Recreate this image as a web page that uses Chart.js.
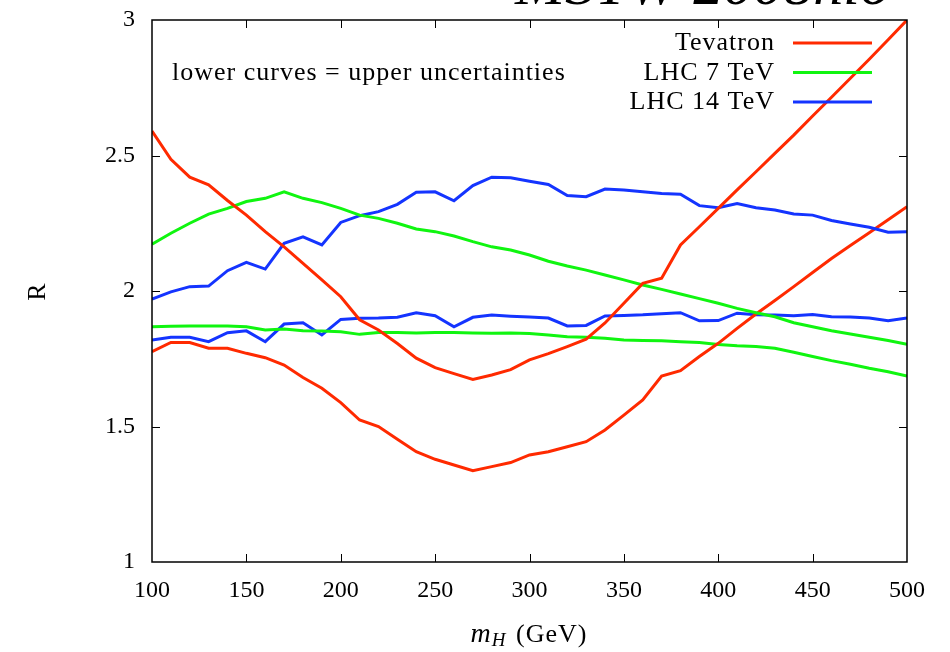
<!DOCTYPE html>
<html>
<head>
<meta charset="utf-8">
<script src="https://cdn.jsdelivr.net/npm/chart.js@4/dist/chart.umd.min.js"></script>
<style>
  body { margin: 0; background: #fff; }
  #wrap { width: 950px; height: 652px; position: relative; }
</style>
</head>
<body>
<div id="wrap"><canvas id="chart"></canvas></div>
<script>
const masses = [100, 110, 120, 130, 140, 150, 160, 170, 180, 190, 200, 210, 220, 230, 240, 250, 260, 270, 280, 290, 300,
    310, 320, 330, 340, 350, 360, 370, 380, 390, 400, 410, 420, 430, 440, 450, 460, 470, 480, 490, 500];

const tevUpper = [2.59, 2.486, 2.42, 2.392, 2.334, 2.28, 2.219, 2.163, 2.102, 2.041, 1.979, 1.894, 1.856, 1.806, 1.752,
    1.717, 1.695, 1.674, 1.69, 1.71, 1.746, 1.769, 1.795, 1.822, 1.882, 1.955, 2.028, 2.047, 2.17, 2.237, 2.305,
    2.373, 2.44, 2.508, 2.575, 2.646, 2.715, 2.785, 2.855, 2.927, 3.0];
const tevLower = [1.776, 1.81, 1.81, 1.789, 1.789, 1.77, 1.754, 1.727, 1.681, 1.641, 1.588, 1.524, 1.5, 1.453, 1.407,
    1.379, 1.358, 1.337, 1.352, 1.367, 1.395, 1.407, 1.425, 1.444, 1.487, 1.542, 1.598, 1.686, 1.706, 1.758, 1.807,
    1.862, 1.915, 1.965, 2.016, 2.068, 2.12, 2.168, 2.215, 2.263, 2.311];
const lhc7Upper = [2.173, 2.213, 2.25, 2.284, 2.305, 2.33, 2.342, 2.366, 2.342, 2.326, 2.305, 2.28, 2.268, 2.25, 2.229,
    2.219, 2.203, 2.182, 2.163, 2.151, 2.133, 2.11, 2.092, 2.077, 2.059, 2.041, 2.022, 2.006, 1.989, 1.972, 1.955,
    1.936, 1.92, 1.905, 1.883, 1.868, 1.853, 1.841, 1.829, 1.817, 1.803];
const lhc7Lower = [1.868, 1.87, 1.871, 1.871, 1.871, 1.868, 1.856, 1.86, 1.853, 1.852, 1.85, 1.84, 1.847, 1.847, 1.845,
    1.847, 1.847, 1.845, 1.844, 1.845, 1.843, 1.838, 1.831, 1.829, 1.826, 1.819, 1.817, 1.816, 1.813, 1.81, 1.803,
    1.798, 1.795, 1.789, 1.774, 1.758, 1.743, 1.73, 1.715, 1.702, 1.686];
const lhc14Upper = [1.97, 1.997, 2.016, 2.018, 2.075, 2.106, 2.081, 2.176, 2.2, 2.17, 2.253, 2.278, 2.293, 2.32, 2.364,
    2.366, 2.333, 2.389, 2.42, 2.418, 2.405, 2.393, 2.352, 2.348, 2.376, 2.373, 2.366, 2.36, 2.357, 2.315, 2.307,
    2.323, 2.307, 2.299, 2.284, 2.28, 2.26, 2.247, 2.235, 2.217, 2.219];
const lhc14Lower = [1.819, 1.829, 1.829, 1.813, 1.846, 1.853, 1.813, 1.878, 1.883, 1.838, 1.895, 1.899, 1.9, 1.903, 1.92,
    1.909, 1.868, 1.903, 1.911, 1.907, 1.904, 1.9, 1.871, 1.873, 1.908, 1.91, 1.912, 1.916, 1.92, 1.89, 1.891,
    1.918, 1.912, 1.911, 1.909, 1.913, 1.905, 1.904, 1.9, 1.89, 1.9];

const xTicks = [100, 150, 200, 250, 300, 350, 400, 450, 500];
const yTicks = [1, 1.5, 2, 2.5, 3];

const legendNames = ['Tevatron', 'LHC 7 TeV', 'LHC 14 TeV'];
const colors = ['#ff2a00', '#10f510', '#1434ff'];

const SERIF = '"Liberation Serif", "DejaVu Serif", serif';

function pts(vals) {
    return masses.map((m, i) => ({ x: m, y: vals[i] }));
}

function line(label, vals, color) {
    return {
        label: label,
        data: pts(vals),
        borderColor: color,
        backgroundColor: color,
        borderWidth: 3,
        pointRadius: 0,
        tension: 0,
        fill: false
    };
}

const datasets = [
    line('Tevatron', tevUpper, colors[0]),
    line('LHC 7 TeV', lhc7Upper, colors[1]),
    line('LHC 14 TeV', lhc14Upper, colors[2]),
    line('Tevatron', tevLower, colors[0]),
    line('LHC 7 TeV', lhc7Lower, colors[1]),
    line('LHC 14 TeV', lhc14Lower, colors[2])
];

// frame, inward ticks, legend, titles
const decor = {
    id: 'decor',
    afterDraw(chart) {
        const ctx = chart.ctx;
        const a = chart.chartArea;
        const xs = chart.scales.x, ys = chart.scales.y;
        ctx.save();
        ctx.strokeStyle = '#000';
        ctx.lineWidth = 1.5;
        ctx.strokeRect(a.left, a.top, a.right - a.left, a.bottom - a.top);
        ctx.lineWidth = 1;
        ctx.beginPath();
        xTicks.slice(1, -1).forEach(v => {
            const px = Math.round(xs.getPixelForValue(v)) + 0.5;
            ctx.moveTo(px, a.bottom); ctx.lineTo(px, a.bottom - 8);
            ctx.moveTo(px, a.top); ctx.lineTo(px, a.top + 8);
        });
        yTicks.slice(1, -1).forEach(v => {
            const py = Math.round(ys.getPixelForValue(v)) + 0.5;
            ctx.moveTo(a.left, py); ctx.lineTo(a.left + 8, py);
            ctx.moveTo(a.right, py); ctx.lineTo(a.right - 8, py);
        });
        ctx.stroke();

        ctx.fillStyle = '#000';
        ctx.font = '26px ' + SERIF;
        ctx.letterSpacing = '1px';
        ctx.textBaseline = 'alphabetic';
        ctx.textAlign = 'left';
        ctx.fillText('lower curves = upper uncertainties', a.left + 20, 80);

        // legend
        legendNames.forEach((name, i) => {
            const yb = 50 + i * 29.5;
            ctx.textAlign = 'right';
            ctx.fillStyle = '#000';
            ctx.fillText(name, 775, yb);
            ctx.strokeStyle = colors[i];
            ctx.lineWidth = 3;
            ctx.beginPath();
            ctx.moveTo(793, yb - 7);
            ctx.lineTo(872, yb - 7);
            ctx.stroke();
        });

        // title (clipped by the top edge, like the original)
        ctx.letterSpacing = '0px';
        ctx.fillStyle = '#000';
        ctx.font = 'italic 60px ' + SERIF;
        ctx.textAlign = 'right';
        ctx.fillText('MSTW 2008nlo', 890, 4);

        // axis titles
        ctx.font = '26px ' + SERIF;
        ctx.save();
        ctx.translate(45, 292);
        ctx.rotate(-Math.PI / 2);
        ctx.textAlign = 'center';
        ctx.fillText('R', 0, 0);
        ctx.restore();

        const cx = 528, yb = 642;
        ctx.letterSpacing = '1px';
        ctx.font = 'italic 28px ' + SERIF;
        const wm = ctx.measureText('m').width;
        ctx.font = 'italic 19px ' + SERIF;
        const wh = ctx.measureText('H').width;
        ctx.font = '26px ' + SERIF;
        const wr = ctx.measureText(' (GeV)').width;
        let x0 = cx - (wm + wh + wr) / 2;
        ctx.textAlign = 'left';
        ctx.font = 'italic 28px ' + SERIF;
        ctx.fillText('m', x0, yb);
        ctx.font = 'italic 19px ' + SERIF;
        ctx.fillText('H', x0 + wm, yb + 4);
        ctx.font = '26px ' + SERIF;
        ctx.fillText(' (GeV)', x0 + wm + wh + 2, yb);
        ctx.restore();
    }
};

new Chart(document.getElementById('chart').getContext('2d'), {
    type: 'line',
    data: { datasets: datasets },
    options: {
        responsive: true,
        maintainAspectRatio: false,
        animation: false,
        layout: { padding: { top: 20, right: 43, left: 0, bottom: 0 } },
        plugins: {
            legend: { display: false },
            tooltip: { enabled: false }
        },
        scales: {
            x: {
                type: 'linear',
                min: 100,
                max: 500,
                afterFit: s => { s.height = 90; s.paddingLeft = 0; s.paddingRight = 0; },
                afterBuildTicks: s => { s.ticks = xTicks.map(v => ({ value: v })); },
                grid: { display: false, drawTicks: false },
                border: { display: false },
                ticks: {
                    color: '#000',
                    padding: 14,
                    maxRotation: 0,
                    font: { family: SERIF, size: 24 },
                    callback: v => String(v)
                }
            },
            y: {
                min: 1,
                max: 3,
                afterFit: s => { s.width = 152; s.paddingTop = 0; s.paddingBottom = 0; },
                afterBuildTicks: s => { s.ticks = yTicks.map(v => ({ value: v })); },
                grid: { display: false, drawTicks: false },
                border: { display: false },
                ticks: {
                    color: '#000',
                    padding: 17,
                    font: { family: SERIF, size: 24 },
                    callback: v => String(v)
                }
            }
        }
    },
    plugins: [decor]
});
</script>
</body>
</html>
